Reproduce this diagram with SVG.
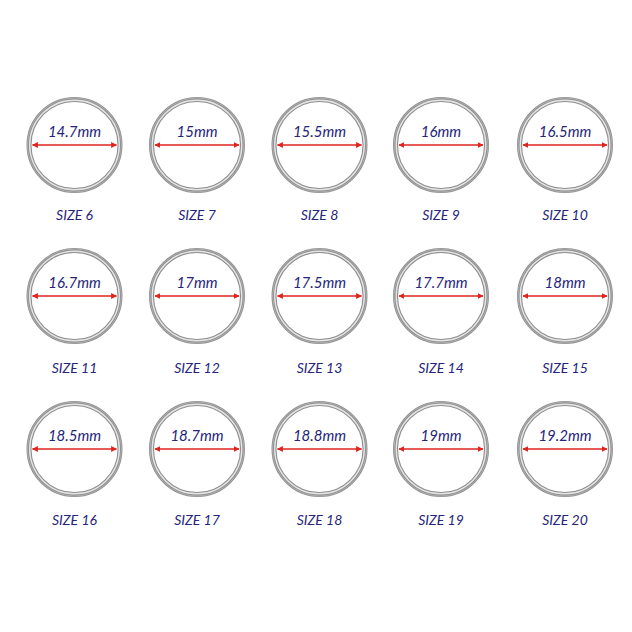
<svg xmlns="http://www.w3.org/2000/svg" width="632" height="632" viewBox="0 0 632 632">
<style>
.o{fill:none;stroke:#8e8e8e;stroke-width:5}
.h{fill:none;stroke:#e4e4e4;stroke-width:1.4}
.d{fill:none;stroke:#b5b5b5;stroke-width:0.8}
.a{stroke:#e0231e;stroke-width:1.6;marker-start:url(#ah);marker-end:url(#ah)}
.m{font-family:Lato,"Open Sans",sans-serif;font-style:italic;font-size:15px;fill:#25257a;text-anchor:middle}
.s{font-family:Lato,"Open Sans",sans-serif;font-style:italic;font-size:14px;fill:#25257a;text-anchor:middle}
</style>
<defs>
<marker id="ah" viewBox="0 0 10 10" refX="9" refY="5" markerWidth="6" markerHeight="6" orient="auto-start-reverse" markerUnits="userSpaceOnUse">
<path d="M0,0 L10,5 L0,10 z" fill="#e0231e"/>
</marker>
<g id="ring">
<circle r="45.5" class="o"/>
<circle r="44.8" class="h"/>
<circle r="47" class="d"/>
<line x1="-42" y1="0" x2="42" y2="0" class="a"/>
</g>
</defs>
<rect width="632" height="632" fill="#ffffff"/>
<g id="r6"><use href="#ring" x="74.5" y="145"/><text class="m" x="74.5" y="137">14.7mm</text><text class="s" x="74.5" y="220">SIZE 6</text></g>
<g id="r7"><use href="#ring" x="197" y="145"/><text class="m" x="197" y="137">15mm</text><text class="s" x="197" y="220">SIZE 7</text></g>
<g id="r8"><use href="#ring" x="319.5" y="145"/><text class="m" x="319.5" y="137">15.5mm</text><text class="s" x="319.5" y="220">SIZE 8</text></g>
<g id="r9"><use href="#ring" x="441" y="145"/><text class="m" x="441" y="137">16mm</text><text class="s" x="441" y="220">SIZE 9</text></g>
<g id="r10"><use href="#ring" x="565" y="145"/><text class="m" x="565" y="137">16.5mm</text><text class="s" x="565" y="220">SIZE 10</text></g>
<g id="r11"><use href="#ring" x="74.5" y="296"/><text class="m" x="74.5" y="288">16.7mm</text><text class="s" x="74.5" y="373">SIZE 11</text></g>
<g id="r12"><use href="#ring" x="197" y="296"/><text class="m" x="197" y="288">17mm</text><text class="s" x="197" y="373">SIZE 12</text></g>
<g id="r13"><use href="#ring" x="319.5" y="296"/><text class="m" x="319.5" y="288">17.5mm</text><text class="s" x="319.5" y="373">SIZE 13</text></g>
<g id="r14"><use href="#ring" x="441" y="296"/><text class="m" x="441" y="288">17.7mm</text><text class="s" x="441" y="373">SIZE 14</text></g>
<g id="r15"><use href="#ring" x="565" y="296"/><text class="m" x="565" y="288">18mm</text><text class="s" x="565" y="373">SIZE 15</text></g>
<g id="r16"><use href="#ring" x="74.5" y="449"/><text class="m" x="74.5" y="441">18.5mm</text><text class="s" x="74.5" y="525">SIZE 16</text></g>
<g id="r17"><use href="#ring" x="197" y="449"/><text class="m" x="197" y="441">18.7mm</text><text class="s" x="197" y="525">SIZE 17</text></g>
<g id="r18"><use href="#ring" x="319.5" y="449"/><text class="m" x="319.5" y="441">18.8mm</text><text class="s" x="319.5" y="525">SIZE 18</text></g>
<g id="r19"><use href="#ring" x="441" y="449"/><text class="m" x="441" y="441">19mm</text><text class="s" x="441" y="525">SIZE 19</text></g>
<g id="r20"><use href="#ring" x="565" y="449"/><text class="m" x="565" y="441">19.2mm</text><text class="s" x="565" y="525">SIZE 20</text></g>
</svg>
